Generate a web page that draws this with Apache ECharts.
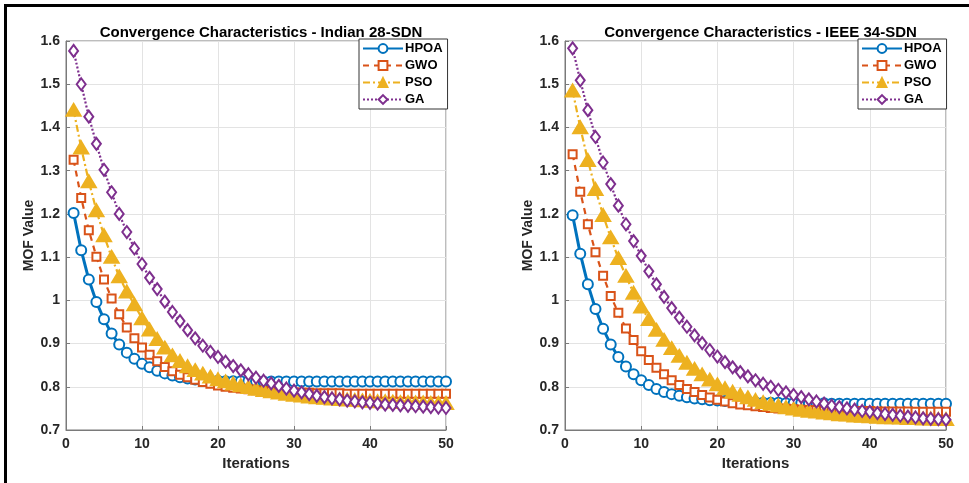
<!DOCTYPE html>
<html>
<head>
    <meta charset="utf-8" />
    <title>Convergence Characteristics</title>
    <script src="https://cdn.jsdelivr.net/npm/echarts@6/dist/echarts.min.js"></script>
    <style>
        html, body { margin: 0; padding: 0; background: #fff; }
        #chart { width: 969px; height: 483px; }
    </style>
</head>
<body>
<div id="chart"></div>
<script type="text/javascript">
    // values, iterations 1..50
    var iterations = [];
    for (var i = 1; i <= 50; i++) iterations.push(i);

    var xTicks = [0, 10, 20, 30, 40, 50];
    var titles = ['Convergence Characteristics - Indian 28-SDN', 'Convergence Characteristics - IEEE 34-SDN'];
    var methods = ['HPOA', 'GWO', 'PSO', 'GA'];

    // Indian 28-SDN
    var hpoa28 = [1.202, 1.116, 1.048, 0.996, 0.956, 0.923, 0.898, 0.879, 0.865, 0.853,
        0.845, 0.837, 0.831, 0.826, 0.822, 0.819, 0.817, 0.816, 0.815, 0.814,
        0.813, 0.813, 0.813, 0.813, 0.813, 0.812, 0.812, 0.812, 0.812, 0.812,
        0.812, 0.812, 0.812, 0.812, 0.812, 0.812, 0.812, 0.812, 0.812, 0.812,
        0.812, 0.812, 0.812, 0.812, 0.812, 0.812, 0.812, 0.812, 0.812, 0.812];
    var gwo28 = [1.325, 1.237, 1.162, 1.101, 1.048, 1.004, 0.968, 0.937, 0.912, 0.891,
        0.874, 0.859, 0.846, 0.836, 0.828, 0.822, 0.816, 0.811, 0.807, 0.803,
        0.800, 0.798, 0.796, 0.794, 0.792, 0.791, 0.790, 0.789, 0.788, 0.787,
        0.786, 0.786, 0.785, 0.785, 0.785, 0.785, 0.784, 0.784, 0.784, 0.784,
        0.784, 0.784, 0.784, 0.784, 0.784, 0.784, 0.784, 0.784, 0.784, 0.784];
    var pso28 = [1.440, 1.353, 1.275, 1.208, 1.150, 1.100, 1.055, 1.020, 0.990, 0.958,
        0.932, 0.910, 0.890, 0.872, 0.859, 0.847, 0.838, 0.830, 0.823, 0.817,
        0.812, 0.807, 0.803, 0.799, 0.795, 0.792, 0.789, 0.786, 0.783, 0.781,
        0.779, 0.777, 0.775, 0.774, 0.772, 0.771, 0.770, 0.769, 0.768, 0.767,
        0.766, 0.766, 0.765, 0.764, 0.764, 0.763, 0.763, 0.762, 0.762, 0.762];
    var ga28 = [1.577, 1.500, 1.425, 1.362, 1.302, 1.250, 1.200, 1.158, 1.120, 1.084,
        1.052, 1.026, 0.997, 0.973, 0.952, 0.931, 0.912, 0.895, 0.881, 0.869,
        0.858, 0.848, 0.838, 0.829, 0.821, 0.814, 0.808, 0.802, 0.796, 0.791,
        0.787, 0.783, 0.779, 0.776, 0.773, 0.771, 0.768, 0.766, 0.764, 0.763,
        0.761, 0.759, 0.758, 0.757, 0.756, 0.755, 0.754, 0.753, 0.752, 0.751];

    // IEEE 34-SDN
    var hpoa34 = [1.197, 1.108, 1.037, 0.980, 0.934, 0.898, 0.869, 0.847, 0.829, 0.815,
        0.804, 0.795, 0.788, 0.783, 0.779, 0.776, 0.773, 0.771, 0.769, 0.768,
        0.767, 0.766, 0.765, 0.764, 0.764, 0.763, 0.763, 0.763, 0.762, 0.762,
        0.762, 0.762, 0.762, 0.762, 0.761, 0.761, 0.761, 0.761, 0.761, 0.761,
        0.761, 0.761, 0.761, 0.761, 0.761, 0.761, 0.761, 0.761, 0.761, 0.761];
    var gwo34 = [1.338, 1.251, 1.176, 1.111, 1.057, 1.010, 0.971, 0.935, 0.908, 0.882,
        0.862, 0.844, 0.829, 0.815, 0.804, 0.795, 0.788, 0.781, 0.775, 0.770,
        0.766, 0.762, 0.759, 0.757, 0.755, 0.753, 0.751, 0.750, 0.749, 0.748,
        0.747, 0.746, 0.746, 0.745, 0.745, 0.745, 0.744, 0.744, 0.744, 0.744,
        0.743, 0.743, 0.743, 0.743, 0.743, 0.742, 0.742, 0.742, 0.742, 0.742];
    var pso34 = [1.485, 1.400, 1.324, 1.257, 1.197, 1.145, 1.097, 1.056, 1.017, 0.985,
        0.956, 0.931, 0.908, 0.889, 0.871, 0.855, 0.841, 0.828, 0.816, 0.805,
        0.796, 0.788, 0.781, 0.775, 0.769, 0.764, 0.760, 0.756, 0.752, 0.749,
        0.746, 0.744, 0.742, 0.740, 0.738, 0.736, 0.735, 0.733, 0.732, 0.731,
        0.730, 0.729, 0.729, 0.728, 0.727, 0.727, 0.726, 0.726, 0.725, 0.725];
    var ga34 = [1.583, 1.509, 1.440, 1.378, 1.319, 1.269, 1.219, 1.176, 1.137, 1.103,
        1.067, 1.037, 1.008, 0.982, 0.960, 0.939, 0.919, 0.901, 0.885, 0.870,
        0.857, 0.845, 0.834, 0.824, 0.815, 0.807, 0.800, 0.793, 0.787, 0.781,
        0.776, 0.771, 0.766, 0.761, 0.756, 0.753, 0.750, 0.747, 0.744, 0.742,
        0.739, 0.737, 0.735, 0.733, 0.731, 0.729, 0.727, 0.726, 0.725, 0.724];

    var colors = ['#0072BD', '#D95319', '#EDB120', '#7E2F8E'];
    var font = 'Liberation Sans, Arial, Helvetica, sans-serif';
    var plots = [
        { left: 66, width: 380, legendLeft: 359, data: [hpoa28, gwo28, pso28, ga28] },
        { left: 565, width: 381, legendLeft: 858, data: [hpoa34, gwo34, pso34, ga34] }
    ];

    function pairs(values) {
        return values.map(function (v, k) { return [iterations[k], v]; });
    }

    // marker / line look per method
    var styles = [
        { symbol: 'emptyCircle', size: 10, lineType: 'solid', width: 3 },
        { symbol: 'emptyRect', size: 8, lineType: [6, 5], width: 2.2 },
        { symbol: 'triangle', size: [13, 11], lineType: [7, 3, 2, 3], width: 2.2 },
        { symbol: 'emptyDiamond', size: [9, 12], lineType: [2, 2], width: 2.2 }
    ];

    var option = {
        animation: false,
        backgroundColor: '#fff',
        color: colors,
        textStyle: { fontFamily: font },
        title: [],
        legend: [],
        grid: [],
        xAxis: [],
        yAxis: [],
        series: [],
        graphic: [
            { type: 'rect', shape: { x: 4, y: 4, width: 965, height: 3 }, style: { fill: '#000' } },
            { type: 'rect', shape: { x: 4, y: 4, width: 3, height: 479 }, style: { fill: '#000' } }
        ]
    };

    plots.forEach(function (p, g) {
        option.title.push({
            text: titles[g],
            left: p.left + p.width / 2,
            top: 20,
            textAlign: 'center',
            textStyle: { fontFamily: font, fontSize: 15, fontWeight: 'bold', color: '#000' }
        });
        option.grid.push({
            left: p.left, top: 41, width: p.width, height: 389,
            show: true, borderColor: '#7a7a7a', borderWidth: 1
        });
        option.xAxis.push({
            type: 'value', gridIndex: g, min: xTicks[0], max: xTicks[xTicks.length - 1], interval: 10,
            name: 'Iterations', nameLocation: 'middle', nameGap: 25,
            nameTextStyle: { fontFamily: font, fontSize: 15, fontWeight: 'bold', color: '#262626' },
            axisLine: { lineStyle: { color: '#7a7a7a' } },
            axisTick: { inside: true, length: 4, lineStyle: { color: '#7a7a7a' } },
            axisLabel: { fontFamily: font, fontSize: 14, fontWeight: 'bold', color: '#262626', margin: 7 },
            splitLine: { lineStyle: { color: '#e3e3e3' } }
        });
        option.yAxis.push({
            type: 'value', gridIndex: g, min: 0.7, max: 1.6, interval: 0.1,
            name: 'MOF Value', nameLocation: 'middle', nameGap: 30,
            nameTextStyle: { fontFamily: font, fontSize: 14, fontWeight: 'bold', color: '#262626' },
            axisLine: { show: true, lineStyle: { color: '#7a7a7a' } },
            axisTick: { show: true, inside: true, length: 4, lineStyle: { color: '#7a7a7a' } },
            axisLabel: { fontFamily: font, fontSize: 14, fontWeight: 'bold', color: '#262626', margin: 6 },
            splitLine: { lineStyle: { color: '#e3e3e3' } }
        });
        option.legend.push({
            orient: 'vertical',
            left: p.legendLeft, top: 39,
            data: methods,
            itemWidth: 40, itemHeight: 11, itemGap: 4,
            padding: [3, 5, 3, 3],
            backgroundColor: '#fff',
            borderColor: '#333', borderWidth: 1, borderRadius: 0,
            textStyle: { fontFamily: font, fontSize: 13, fontWeight: 'bold', color: '#000', padding: [0, 0, 0, -3] }
        });
        p.data.forEach(function (vals, m) {
            var s = styles[m];
            option.series.push({
                name: methods[m],
                type: 'line',
                xAxisIndex: g, yAxisIndex: g,
                data: pairs(vals),
                symbol: s.symbol,
                symbolSize: s.size,
                showAllSymbol: true,
                lineStyle: { color: colors[m], width: s.width, type: s.lineType },
                itemStyle: { color: colors[m], borderColor: colors[m], borderWidth: 2.6 }
            });
        });
    });

    var myChart = echarts.init(document.getElementById('chart'), null, { renderer: 'canvas' });
    myChart.setOption(option);
</script>
</body>
</html>
